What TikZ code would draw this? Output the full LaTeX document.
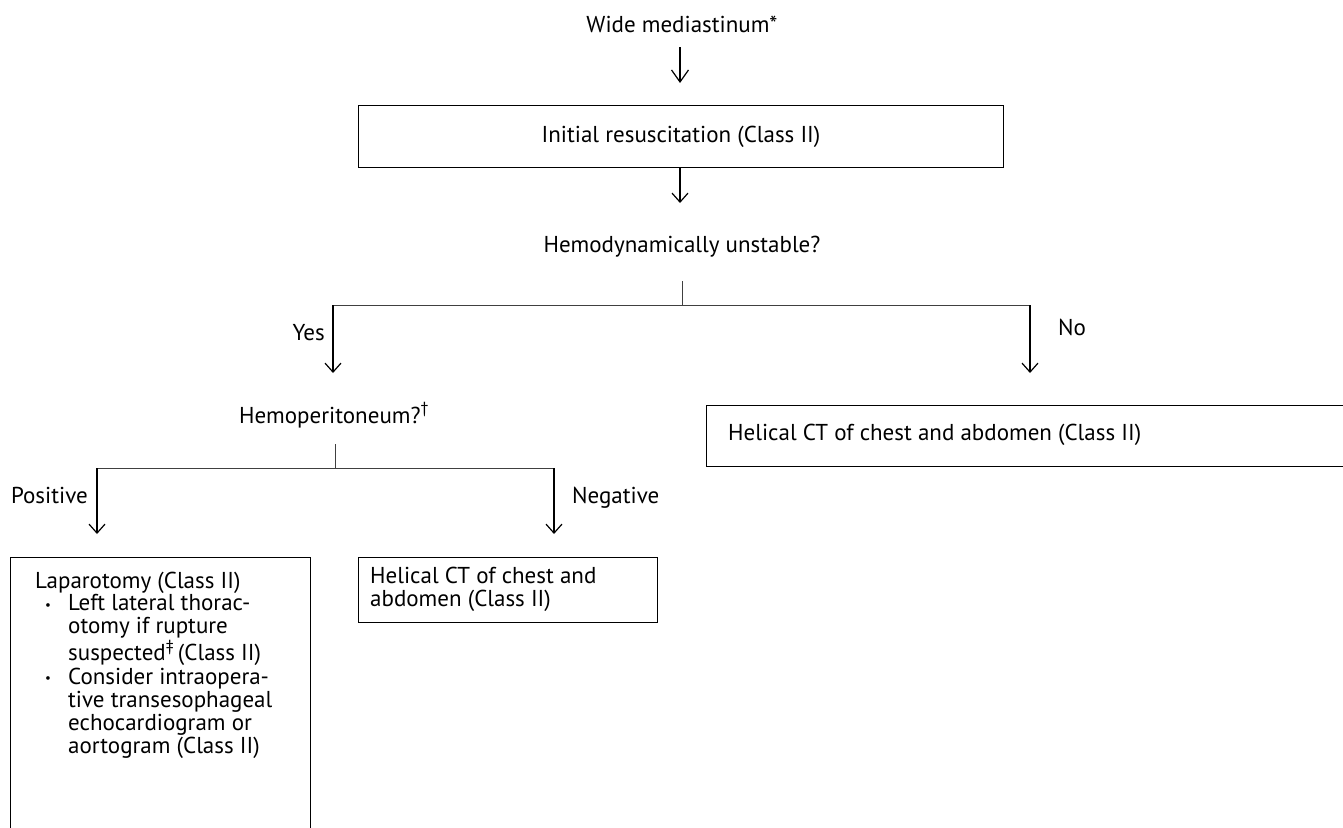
\documentclass[tikz,border=0pt]{standalone}
\usepackage{fontspec}
\setmainfont{PT Sans}
\usetikzlibrary{arrows.meta}
\begin{document}
\begin{tikzpicture}[x=1pt,y=-1pt,
  txt/.style={inner sep=0pt, font=\fontsize{23}{22.4}\selectfont},
  box/.style={draw=black, line width=1.3pt, inner sep=0pt},
  arr/.style={line width=1.4pt, draw=black, -{Straight Barb[length=9pt,width=16pt,line width=1.2pt]}},
  bigarr/.style={arr, -{Straight Barb[length=12pt,width=17pt,line width=1.2pt]}},
  ln/.style={line width=1pt, draw=black!75}]
\useasboundingbox (0,0) rectangle (1343,827);
\clip (0,0) rectangle (1343,827);
% texts
\node[txt, anchor=base] (wide) at (682,32) {Wide mediastinum*};
\node[box, anchor=north west, minimum width=645pt, minimum height=62pt] (init) at (358,105) {};
\node[txt, anchor=base] (initT) at (681,142) {Initial resuscitation (Class II)};
\node[txt, anchor=base] (hemo) at (682,252) {Hemodynamically unstable?};
\node[txt, anchor=base] (hemop) at (334,423) {Hemoperitoneum?\textsuperscript{†}};
\node[txt, anchor=base east] (yes) at (325,340) {Yes};
\node[txt, anchor=base west] (no) at (1058,335) {No};
\node[txt, anchor=base east] (pos) at (88,503) {Positive};
\node[txt, anchor=base west] (neg) at (572,503) {Negative};
% right box
\node[box, anchor=north west, minimum width=700pt, minimum height=61pt] (ctR) at (706,405) {};
\node[txt, anchor=base west] (ctRT) at (728,440) {Helical CT of chest and abdomen (Class II)};
% middle box
\node[box, anchor=north west, minimum width=299pt, minimum height=65pt] (ctM) at (358,557) {};
\node[txt, anchor=base west] (ctMT) at (370,583) {\begin{tabular}[t]{@{}l@{}}Helical CT of chest and\\abdomen (Class II)\end{tabular}};
% left box
\node[box, anchor=north west, minimum width=300pt, minimum height=300pt] (lap) at (10,557) {};
\newcommand{\bul}{\makebox[33pt][l]{\hspace{10pt}\raisebox{1.5pt}{\fontsize{13}{13}\selectfont •}}}
\newcommand{\ind}{\hspace*{33pt}}
\node[txt, anchor=base west] (lapT) at (35,588) {\begin{tabular}[t]{@{}l@{}}Laparotomy (Class II)\\
\bul Left lateral thorac-\\
\ind otomy if rupture\\
\ind suspected\textsuperscript{‡}\,(Class II)\\
\bul Consider intraopera-\\
\ind tive transesophageal\\
\ind echocardiogram or\\
\ind aortogram (Class II)\end{tabular}};
% coordinates
\coordinate (t1) at (682,281);
\coordinate (j1) at (682,305);
\coordinate (yesL) at (333,305);
\coordinate (noR) at (1030,305);
\coordinate (yesE) at (333,373);
\coordinate (noE) at (1030,373);
\coordinate (t2) at (335,444);
\coordinate (j2) at (335,468);
\coordinate (posL) at (97,468);
\coordinate (negR) at (554,468);
\coordinate (posE) at (97,534);
\coordinate (negE) at (554,534);
\coordinate (a1s) at (680,47);
\coordinate (a1e) at (680,83);
\coordinate (a2e) at (680,203);
% connectors
\draw[bigarr] (a1s) -- (a1e);
\draw[arr] (init.south -| a2e) -- (a2e);
\draw[ln] (t1) -- (j1);
\draw[ln] (yesL) -- (noR);
\draw[arr] (yesL) -- (yesE);
\draw[arr] (noR) -- (noE);
\draw[ln] (t2) -- (j2);
\draw[ln] (posL) -- (negR);
\draw[arr] (posL) -- (posE);
\draw[arr] (negR) -- (negE);
\end{tikzpicture}
\end{document}
